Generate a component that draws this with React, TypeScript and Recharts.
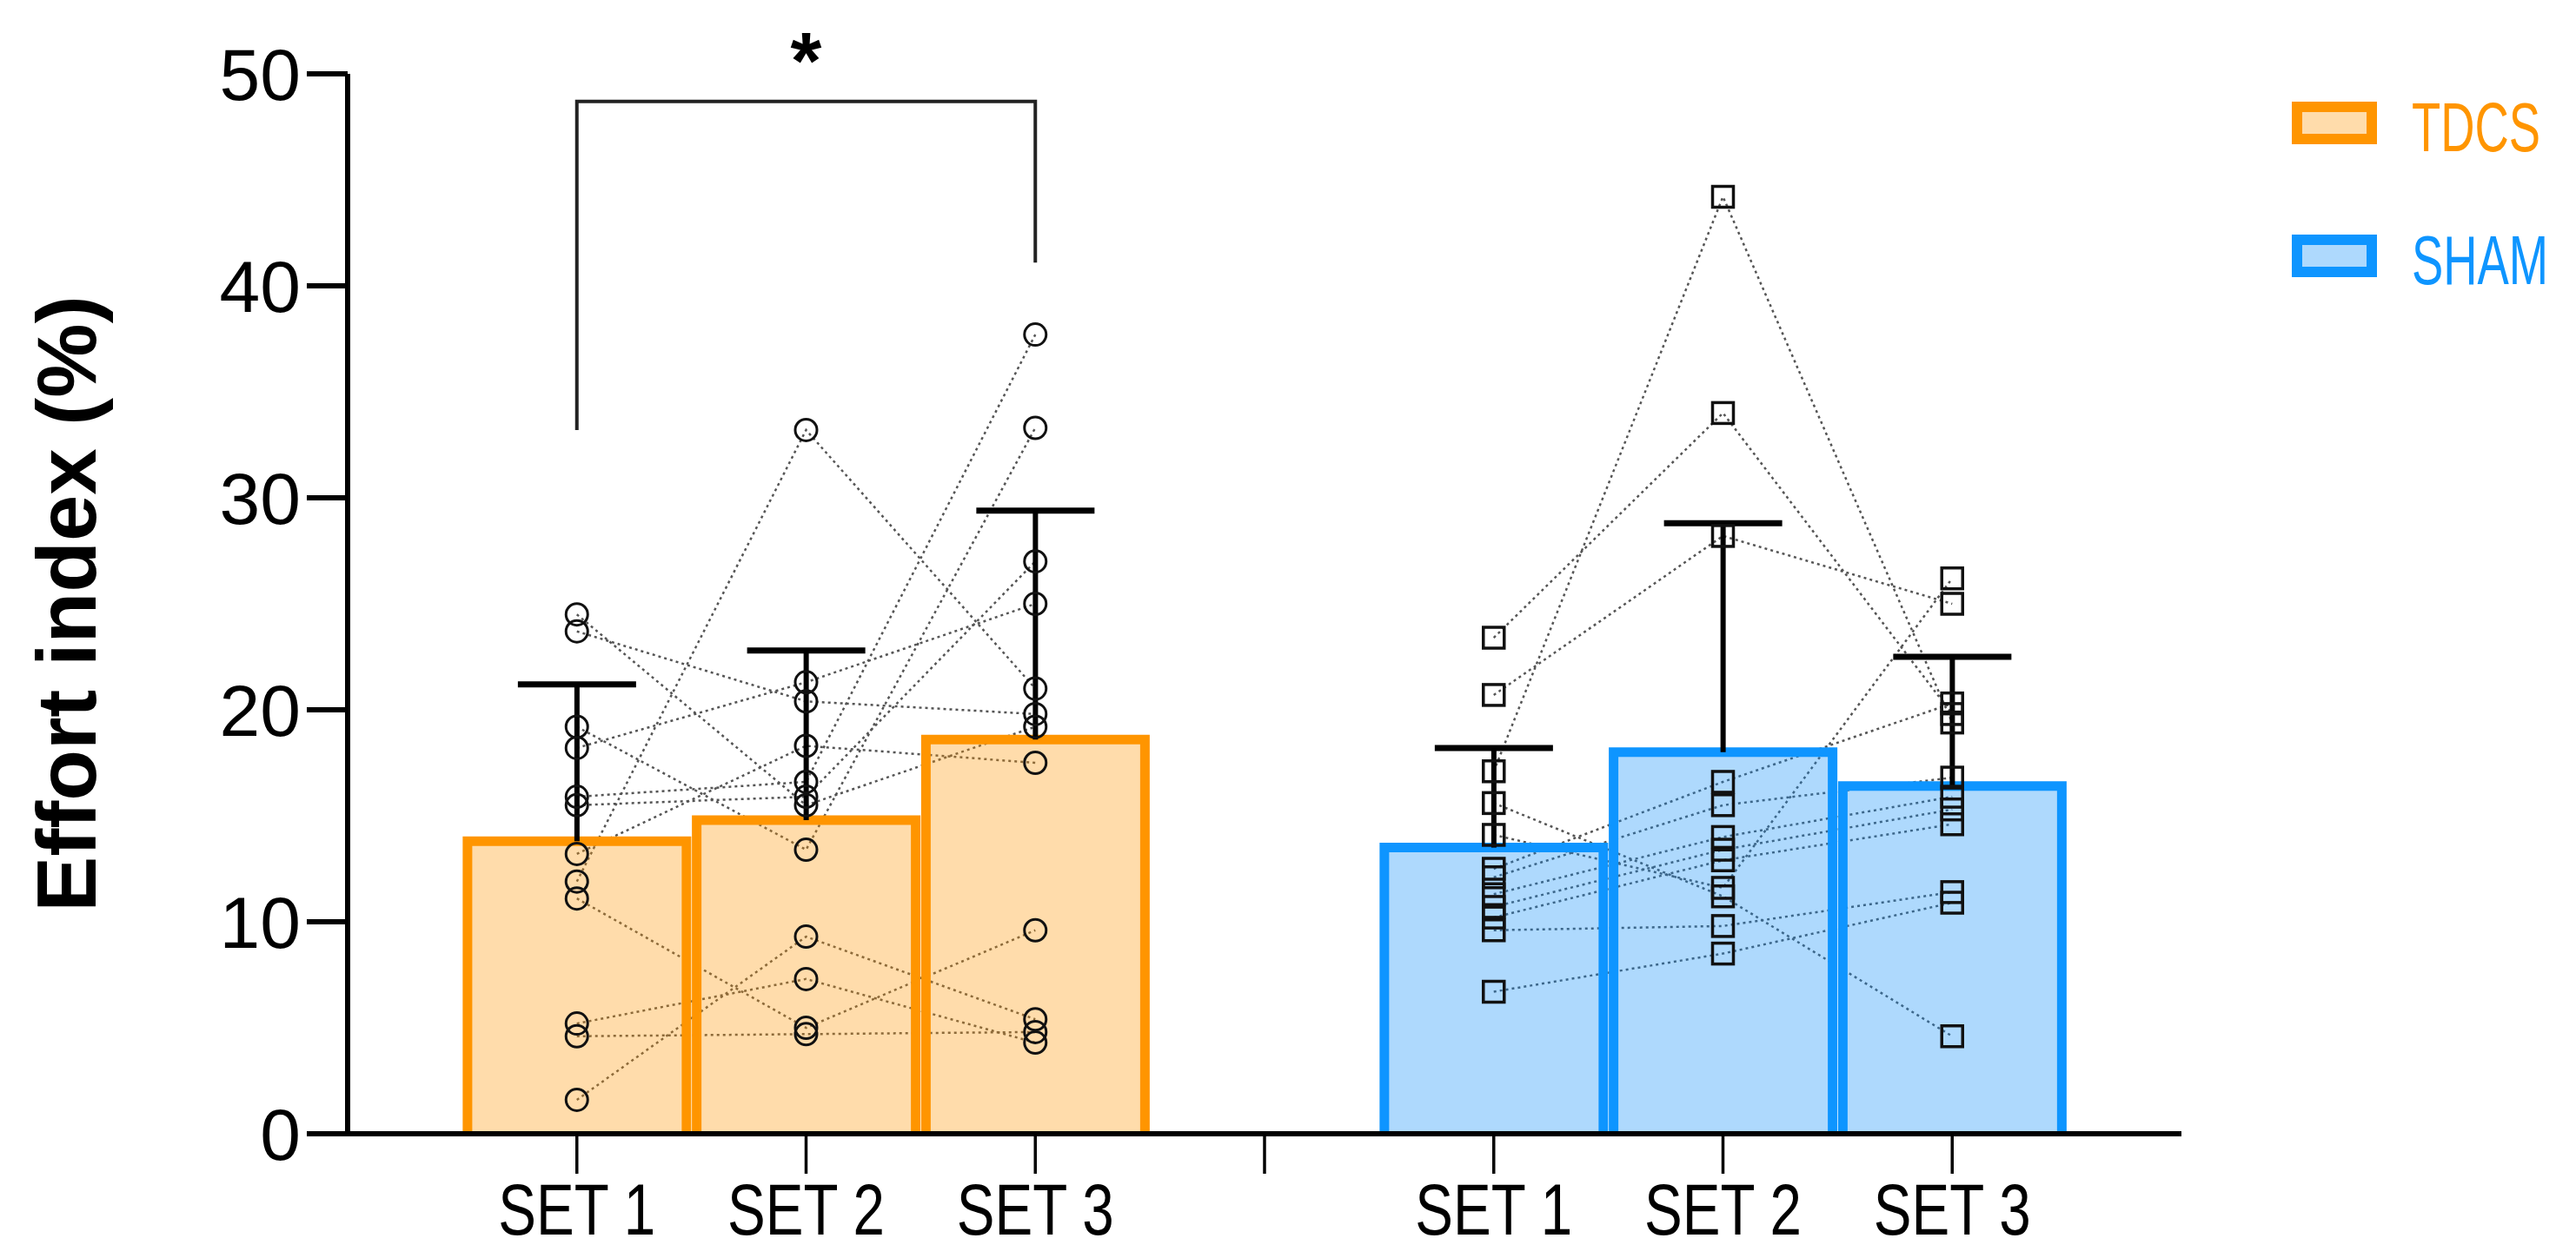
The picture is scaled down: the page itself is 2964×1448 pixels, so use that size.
import React from "react";
import { ComposedChart, Bar, Line, XAxis, YAxis, Legend, ReferenceDot } from "recharts";

// x slots: 1..3 TDCS sets, 4 is the gap tick, 5..7 SHAM sets
const categories = ["SET 1", "SET 2", "SET 3", "", "SET 1", "SET 2", "SET 3"];
const tdcsSlots = [1, 2, 3];
const shamSlots = [5, 6, 7];
const yTicks = [0, 10, 20, 30, 40, 50];

const tdcsMean = [13.8, 14.8, 18.6];
const tdcsSdTop = [21.2, 22.8, 29.4];
const shamMean = [13.5, 18.0, 16.4];
const shamSdTop = [18.2, 28.8, 22.5];

// one row per subject: SET 1, SET 2, SET 3
const tdcsSubjects = [
  [24.5, 15.5, 19.2],
  [23.7, 20.4, 19.8],
  [19.2, 13.4, 33.3],
  [18.2, 21.3, 25.0],
  [15.9, 16.6, 37.7],
  [15.5, 15.9, 27.0],
  [13.2, 18.3, 17.5],
  [11.9, 33.2, 21.0],
  [11.1, 5.0, 9.6],
  [5.2, 7.3, 4.3],
  [4.6, 4.7, 4.8],
  [1.6, 9.3, 5.4],
];

const shamSubjects = [
  [17.1, 44.2, 19.4],
  [23.4, 34.0, 19.8],
  [20.7, 28.2, 25.0],
  [6.7, 8.5, 10.9],
  [15.6, 11.2, 4.6],
  [14.1, 11.6, 26.2],
  [12.5, 16.6, 20.3],
  [12.1, 15.5, 16.8],
  [11.3, 14.0, 15.9],
  [10.7, 13.4, 15.3],
  [10.2, 12.9, 14.6],
  [9.6, 9.8, 11.4],
];

// significance bracket between TDCS SET 1 and SET 3
const bracketX = [1, 1, 3, 3];
const bracketY = [33.2, 48.7, 48.7, 41.1];

const FONT = "'Liberation Sans', Arial, Helvetica, sans-serif";

const colors: Record<string, { stroke: string; fill: string }> = {
  TDCS: { stroke: "#FF9500", fill: "#FF9500" },
  SHAM: { stroke: "#0E95FF", fill: "#0A8CFA" },
};
const groups = ["TDCS", "SHAM"];

const barData = [
  ...tdcsSlots.map((x, i) => ({ x, mean: tdcsMean[i], sdTop: tdcsSdTop[i], group: "TDCS" })),
  ...shamSlots.map((x, i) => ({ x, mean: shamMean[i], sdTop: shamSdTop[i], group: "SHAM" })),
];

const toLine = (vals: number[], slots: number[]) => vals.map((y, i) => ({ x: slots[i], y }));
const bracketData = bracketX.map((x, i) => ({ x, y: bracketY[i] }));

function MeanBar(props: any) {
  const { x, y, width, height, payload } = props;
  if (!payload || !height) return null;
  const c = colors[payload.group];
  const perUnit = height / payload.mean;
  const capY = y - (payload.sdTop - payload.mean) * perUnit;
  const cx = x + width / 2;
  return (
    <g>
      <rect x={x} y={y} width={width} height={height} fill={c.fill} fillOpacity={0.33} />
      <path
        d={`M${x},${y + height} L${x},${y} L${x + width},${y} L${x + width},${y + height}`}
        fill="none"
        stroke={c.stroke}
        strokeWidth={11}
      />
      <line x1={cx} x2={cx} y1={y} y2={capY} stroke="#000" strokeWidth={6} />
      <line x1={cx - 68} x2={cx + 68} y1={capY} y2={capY} stroke="#000" strokeWidth={7} />
    </g>
  );
}

function Ring(p: any) {
  if (p.cx == null || p.cy == null) return <g key={p.key} />;
  return <circle key={p.key} cx={p.cx} cy={p.cy} r={12.5} fill="none" stroke="#111" strokeWidth={3} />;
}

function Box(p: any) {
  if (p.cx == null || p.cy == null) return <g key={p.key} />;
  return (
    <rect key={p.key} x={p.cx - 12} y={p.cy - 12} width={24} height={24} fill="none" stroke="#111" strokeWidth={3.5} />
  );
}

function SetTick(props: any) {
  const { x, y, payload } = props;
  const label = categories[payload.value - 1];
  return (
    <text
      transform={`translate(${x},${y}) scale(0.78,1)`}
      textAnchor="middle"
      dy="0.71em"
      fontSize={84}
      fontFamily={FONT}
      fill="#000"
    >
      {label}
    </text>
  );
}

function YTick(props: any) {
  const { x, y, payload } = props;
  return (
    <text x={x} y={y} textAnchor="end" dy="0.36em" fontSize={84} fontFamily={FONT} fill="#000">
      {payload.value}
    </text>
  );
}

function YTitle(props: any) {
  const vb = props.viewBox || { x: 200, y: 85, width: 200, height: 1220 };
  const cx = vb.x + vb.width - 324;
  const cy = vb.y + vb.height / 2;
  return (
    <text
      x={cx}
      y={cy}
      transform={`rotate(-90 ${cx} ${cy})`}
      textAnchor="middle"
      dominantBaseline="central"
      fontSize={96}
      fontWeight="bold"
      fontFamily={FONT}
      fill="#000"
    >
      Effort index (%)
    </text>
  );
}

function Star(p: any) {
  return (
    <text x={p.cx} y={p.cy - 15} textAnchor="middle" fontSize={92} fontWeight="bold" fontFamily={FONT} fill="#000">
      *
    </text>
  );
}

function LegendBox() {
  return (
    <svg width={340} height={260}>
      {groups.map((g, i) => {
        const top = 23 + i * 153;
        const c = colors[g];
        return (
          <g key={g}>
            <rect x={23} y={top} width={86} height={37} fill={c.fill} fillOpacity={0.33} stroke={c.stroke} strokeWidth={12} />
            <text
              transform={`translate(155,${top + 51}) scale(0.68,1)`}
              fontSize={80}
              fill={c.stroke}
              fontFamily={FONT}
            >
              {g}
            </text>
          </g>
        );
      })}
    </svg>
  );
}

export default function App() {
  return (
    <div style={{ position: "absolute", left: 0, top: 0, fontFamily: FONT }}>
      <ComposedChart
        width={2964}
        height={1448}
        data={barData}
        margin={{ top: 85, right: 454, bottom: 43, left: 200 }}
      >
        {tdcsSubjects.map((s, i) => (
          <Line
            key={"t" + i}
            data={toLine(s, tdcsSlots)}
            dataKey="y"
            type="linear"
            stroke="#555"
            strokeWidth={2.5}
            strokeDasharray="3 4"
            dot={Ring}
            activeDot={false}
            legendType="none"
            isAnimationActive={false}
          />
        ))}
        {shamSubjects.map((s, i) => (
          <Line
            key={"s" + i}
            data={toLine(s, shamSlots)}
            dataKey="y"
            type="linear"
            stroke="#555"
            strokeWidth={2.5}
            strokeDasharray="3 4"
            dot={Box}
            activeDot={false}
            legendType="none"
            isAnimationActive={false}
          />
        ))}
        <Bar
          dataKey="mean"
          barSize={252}
          shape={MeanBar}
          legendType="none"
          isAnimationActive={false}
          {...({ zIndex: 450 } as any)}
        />
        <Line
          data={bracketData}
          dataKey="y"
          type="linear"
          stroke="#222"
          strokeWidth={4}
          dot={false}
          activeDot={false}
          legendType="none"
          isAnimationActive={false}
        />
        <ReferenceDot x={2} y={bracketY[1]} r={0} shape={Star} />
        <XAxis
          dataKey="x"
          type="number"
          domain={[0, 8]}
          ticks={[1, 2, 3, 4, 5, 6, 7]}
          height={100}
          axisLine={{ stroke: "#000", strokeWidth: 6 }}
          tickLine={{ stroke: "#000", strokeWidth: 3.5 }}
          tickSize={46}
          tickMargin={10}
          tick={<SetTick />}
          interval={0}
          allowDataOverflow
        />
        <YAxis
          type="number"
          domain={[0, 50]}
          ticks={yTicks}
          width={200}
          axisLine={{ stroke: "#000", strokeWidth: 6 }}
          tickLine={{ stroke: "#000", strokeWidth: 6 }}
          tickSize={47}
          tickMargin={7}
          tick={<YTick />}
          label={<YTitle />}
          allowDataOverflow
        />
        <Legend
          layout="horizontal"
          verticalAlign="middle"
          align="center"
          content={<LegendBox />}
          wrapperStyle={{ left: 2620, top: 100, width: 340 }}
        />
      </ComposedChart>
    </div>
  );
}
